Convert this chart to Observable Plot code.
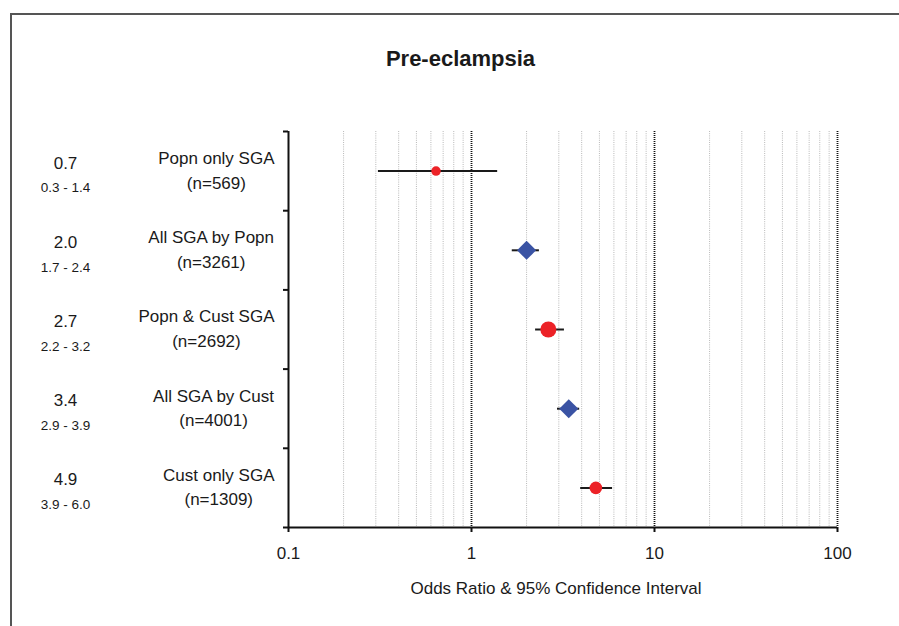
<!DOCTYPE html>
<html><head><meta charset="utf-8">
<script src="https://cdn.jsdelivr.net/npm/d3@7"></script>
<script src="https://cdn.jsdelivr.net/npm/@observablehq/plot@0.6"></script>
<style>
body{margin:0;background:#fff;}
#wrap{position:relative;width:899px;height:626px;overflow:hidden;font-family:"Liberation Sans",Arial,sans-serif;}
#border{position:absolute;left:10px;top:13px;width:950px;height:700px;border-left:2px solid #555;border-top:2px solid #555;}
#title{position:absolute;left:0;width:921px;text-align:center;top:48px;font-weight:bold;font-size:22px;line-height:22px;color:#1a1a1a;}
#chart{position:absolute;left:0;top:0;}
</style></head><body>
<div id="wrap"><div id="border"></div><div id="title">Pre-eclampsia</div><div id="chart"></div></div>
<script>
const categories = ["Popn only SGA","All SGA by Popn","Popn & Cust SGA","All SGA by Cust","Cust only SGA"];
const sampleSizes = [569,3261,2692,4001,1309];
const oddsRatios = [0.64,2.0,2.63,3.4,4.78];
const ciLower = [0.31,1.67,2.24,2.95,3.95];
const ciUpper = [1.39,2.35,3.22,3.9,5.9];
const orLabels = ["0.7","2.0","2.7","3.4","4.9"];
const ciLabels = ["0.3 - 1.4","1.7 - 2.4","2.2 - 3.2","2.9 - 3.9","3.9 - 6.0"];
const groupType = ["subset","all","subset","all","subset"];
const xTicks = [0.1,1,10,100];
const gridMinor = [0.2,0.3,0.4,0.5,0.6,0.7,0.8,0.9,2,3,4,5,6,7,8,9,20,30,40,50,60,70,80,90];
const gridMajor = [1,10,100];
const xLabel = "Odds Ratio & 95% Confidence Interval";

const rows = categories.map((c,i)=>({
  y: i+0.5, cat: c, n: sampleSizes[i], nLabel: `(n=${sampleSizes[i]})`,
  or: oddsRatios[i], lo: ciLower[i], hi: ciUpper[i],
  orL: orLabels[i], ciL: ciLabels[i], type: groupType[i]
}));

const FONT = '"Liberation Sans", Arial, sans-serif';
const ctx = document.createElement("canvas").getContext("2d");
ctx.font = `17px ${FONT}`;
const textColor = "#1a1a1a";

const catMarks = rows.map(r => {
  const w = ctx.measureText(r.cat).width;
  const dx = -14 - w/2;
  return [
    Plot.text([r], {y:"y", text:"cat", frameAnchor:"left", dx, dy:-12.5, textAnchor:"middle", lineAnchor:"middle", fontSize:17, fill:textColor}),
    Plot.text([r], {y:"y", text:"nLabel", frameAnchor:"left", dx, dy:12, textAnchor:"middle", lineAnchor:"middle", fontSize:17, fill:textColor})
  ];
}).flat();

const chart = Plot.plot({
  width: 899, height: 626,
  marginLeft: 288, marginRight: 62, marginTop: 131, marginBottom: 99,
  style: {fontFamily: FONT, background: "transparent", color: textColor},
  x: {type: "log", domain: [0.1, 100]},
  y: {domain: [0, 5], reverse: true},
  r: {type: "pow", exponent: 1/3, domain: [0, 2692], range: [0, 8]},
  marks: [
    Plot.ruleX(gridMinor, {stroke:"#b8b8b8", strokeDasharray:"1,1.2", strokeWidth:1}),
    Plot.ruleX(gridMajor, {stroke:"#111", strokeDasharray:"1,1", strokeWidth:1.8}),
    Plot.ruleY(rows, {y:"y", x1:"lo", x2:"hi", stroke:"#1a1a1a", strokeWidth:2}),
    Plot.dot(rows.filter(d=>d.type==="subset"), {x:"or", y:"y", r:"n", symbol:"circle", fill:"#ec2227", stroke:"none"}),
    Plot.dot(rows.filter(d=>d.type==="all"), {x:"or", y:"y", r:8.6, symbol:"diamond2", fill:"#3a53a4", stroke:"none"}),
    Plot.ruleX([0.1], {stroke:"#111", strokeWidth:2}),
    Plot.ruleY([5], {stroke:"#111", strokeWidth:2}),
    Plot.axisY({ticks:[0,1,2,3,4,5], tickSize:5, tickFormat:()=>"", stroke:"#111", strokeWidth:2, label:null}),
    Plot.axisX({ticks:xTicks, tickSize:5, tickPadding:14, tickFormat:d=>String(d), fontSize:17, stroke:"#111", strokeWidth:2, label:null, fill:textColor}),
    Plot.text(rows, {y:"y", text:"orL", frameAnchor:"left", dx:-223, dy:-8, textAnchor:"middle", lineAnchor:"middle", fontSize:17, fill:textColor}),
    Plot.text(rows, {y:"y", text:"ciL", frameAnchor:"left", dx:-223, dy:17, textAnchor:"middle", lineAnchor:"middle", fontSize:13.5, fill:textColor}),
    ...catMarks,
    Plot.text([xLabel], {frameAnchor:"bottom", dy:61, dx:-7, textAnchor:"middle", lineAnchor:"middle", fontSize:17, fill:textColor})
  ]
});
document.getElementById("chart").appendChild(chart);
</script>
</body></html>
